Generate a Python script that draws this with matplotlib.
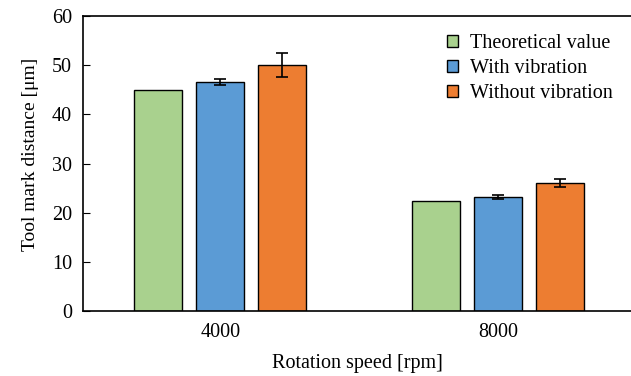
import numpy as np
import matplotlib.pyplot as plt

plt.rcParams['font.family'] = ['Liberation Serif', 'DejaVu Serif']

speeds = ['4000', '8000']
series = ['Theoretical value', 'With vibration', 'Without vibration']
theoretical = [45.0, 22.3]
with_vib = [46.6, 23.1]
with_vib_err = [0.6, 0.4]
without_vib = [50.1, 26.0]
without_vib_err = [2.4, 0.8]
colors = ['#a9d18e', '#5b9bd5', '#ed7d31']

fig = plt.figure(figsize=(6.31, 3.76), dpi=100)
ax = fig.add_axes([0.1315, 0.173, 0.8685, 0.784])

x = np.arange(len(speeds))
w = 0.173
off = 0.224
ax.bar(x - off, theoretical, w, color=colors[0], edgecolor='black', linewidth=1, label=series[0])
ax.bar(x, with_vib, w, color=colors[1], edgecolor='black', linewidth=1, label=series[1],
       yerr=with_vib_err, capsize=4, error_kw=dict(elinewidth=1.2, capthick=1.2))
ax.bar(x + off, without_vib, w, color=colors[2], edgecolor='black', linewidth=1, label=series[2],
       yerr=without_vib_err, capsize=4, error_kw=dict(elinewidth=1.2, capthick=1.2))

ax.set_xlim(-0.495, 1.48)
ax.set_ylim(0, 60)
ax.set_yticks(range(0, 61, 10))
ax.set_xticks(x)
ax.set_xticklabels(speeds)
ax.tick_params(axis='x', length=0, labelsize=14.5, pad=9)
ax.tick_params(axis='y', direction='in', length=5, labelsize=14.5, pad=8)
ax.spines['right'].set_visible(False)
for s in ['left', 'top', 'bottom']:
    ax.spines[s].set_linewidth(1.2)

ax.set_xlabel('Rotation speed [rpm]', fontsize=14.5, labelpad=8)
ax.set_ylabel('Tool mark distance [\u03bcm]', fontsize=14, labelpad=8)
ax.yaxis.set_label_coords(-0.08, 0.53)

ax.legend(loc='upper right', bbox_to_anchor=(1.0, 1.0), frameon=False, fontsize=14.5,
          handlelength=0.55, handleheight=0.55, handletextpad=0.6, labelspacing=0.3)

fig.savefig('out.png', dpi=100)
